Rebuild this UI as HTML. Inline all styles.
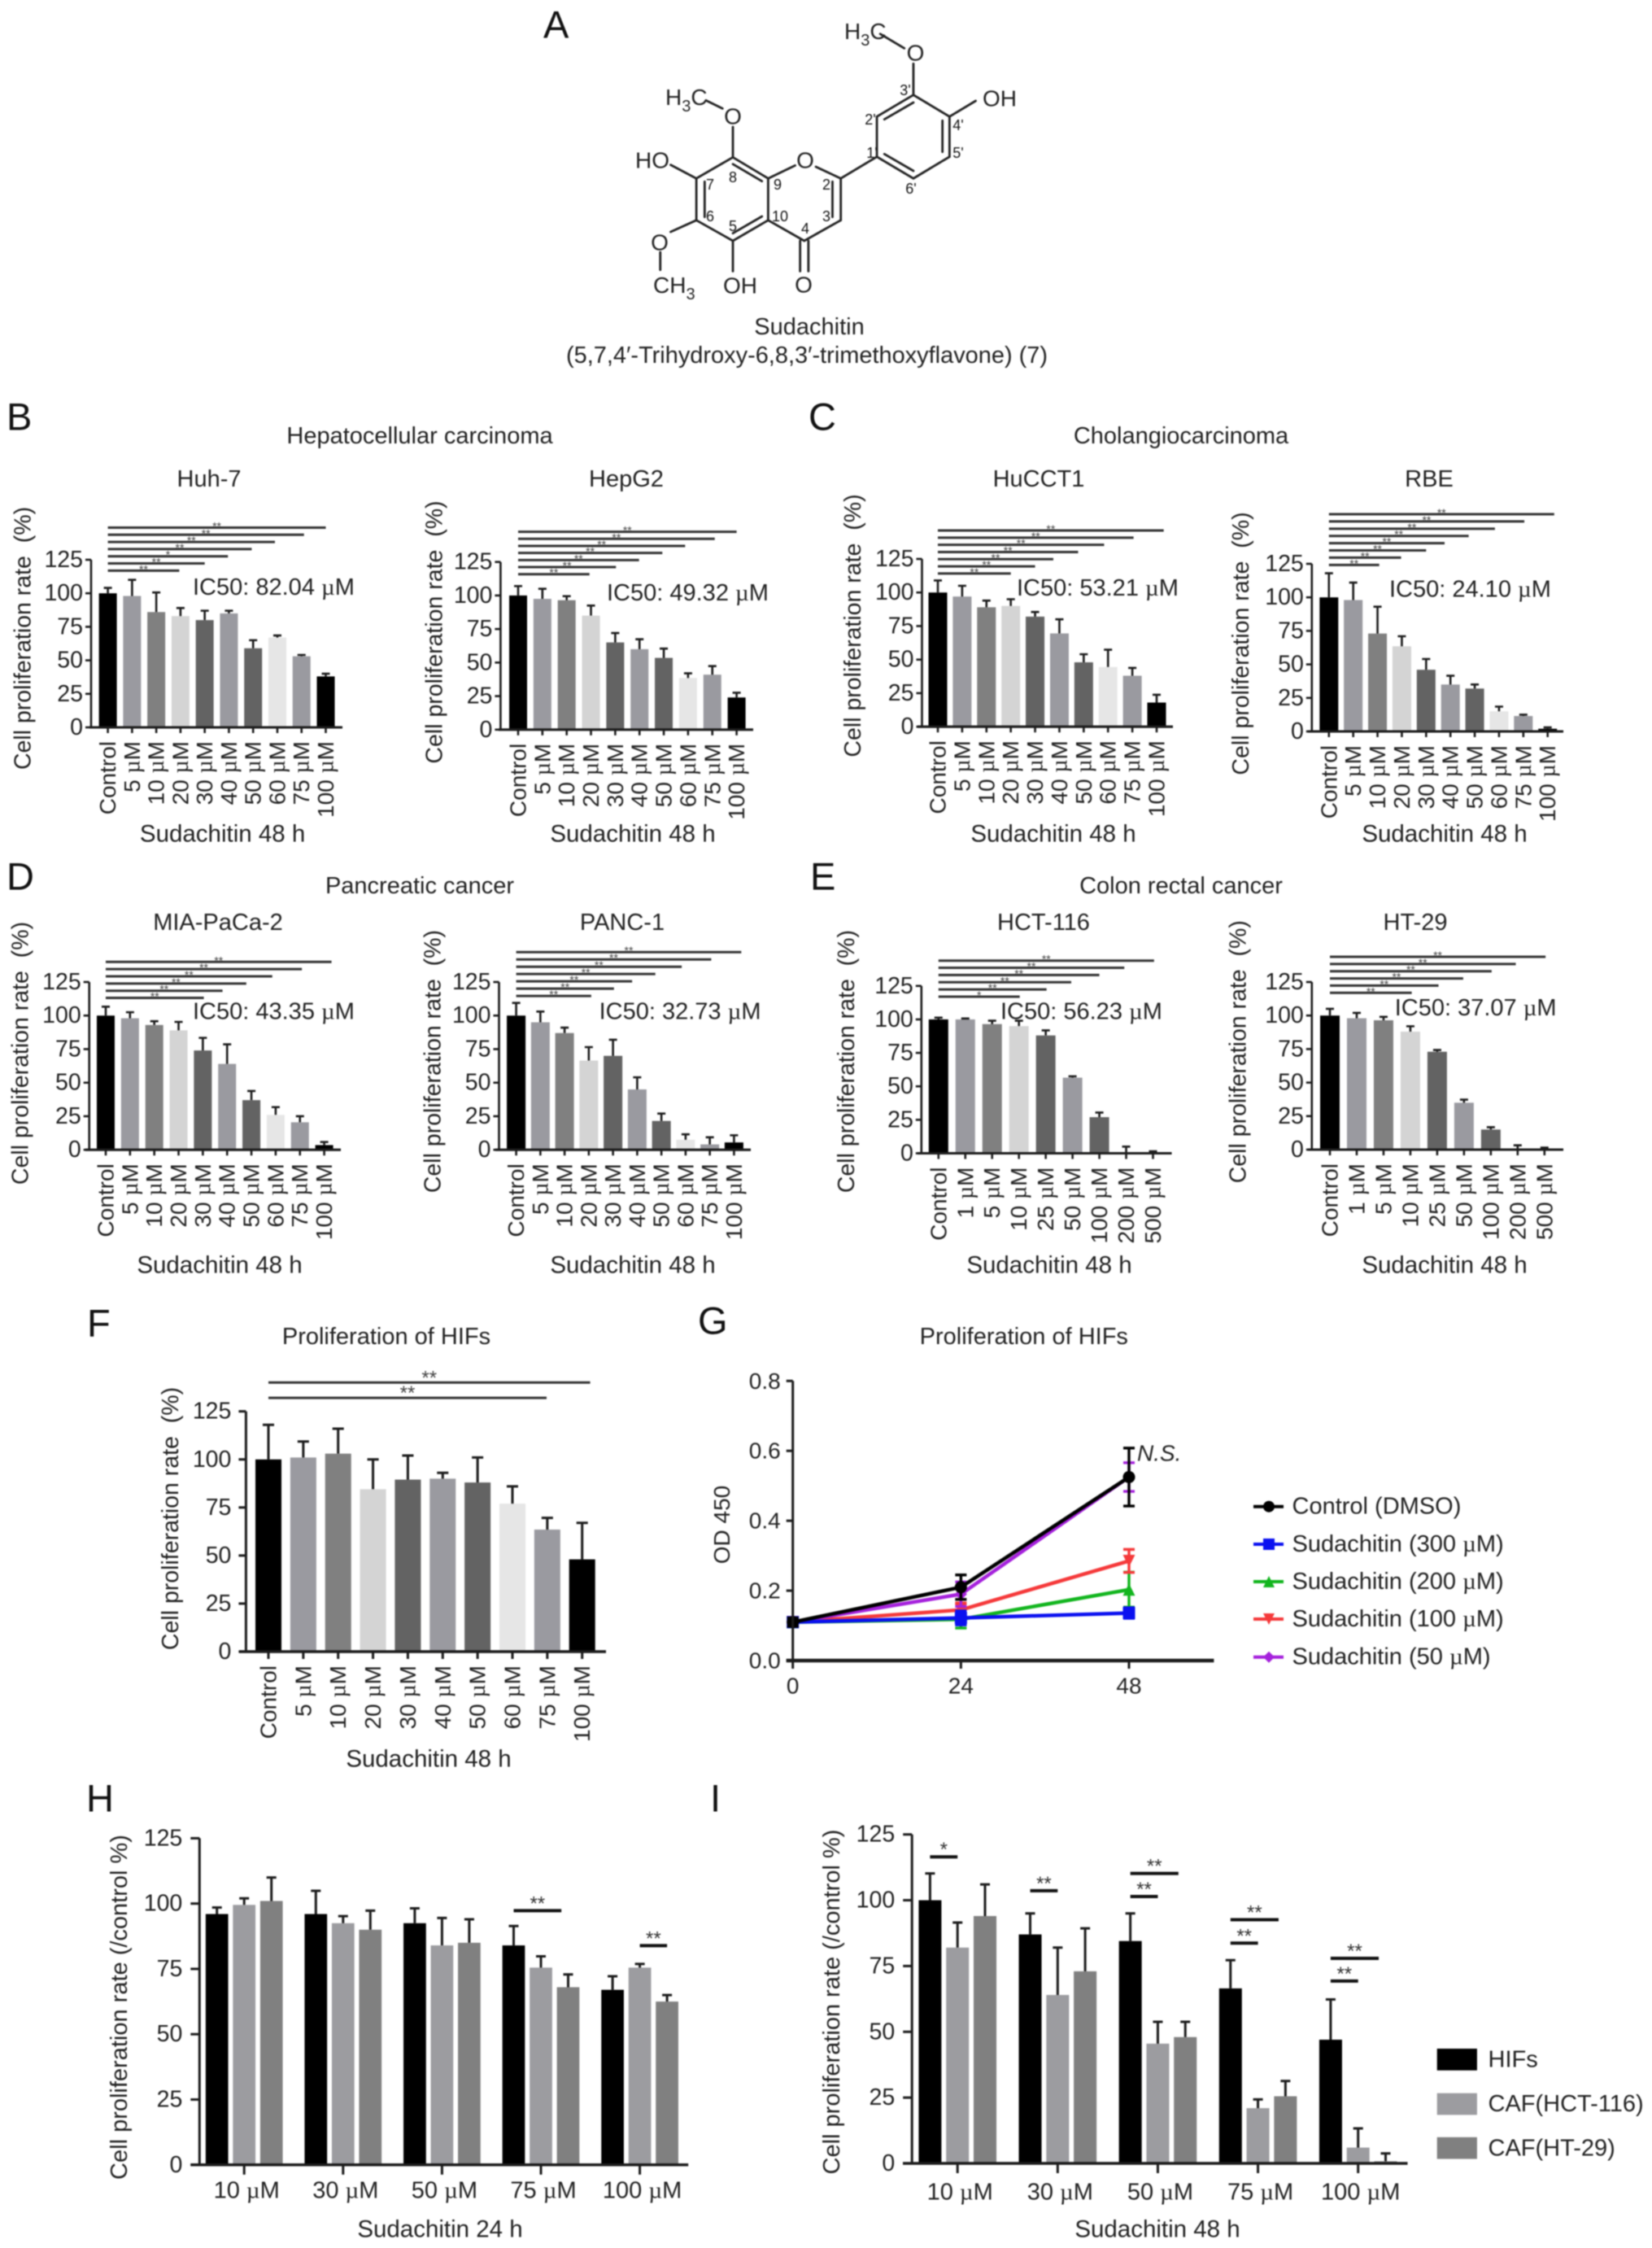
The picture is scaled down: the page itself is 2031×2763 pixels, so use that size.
<!DOCTYPE html>
<html lang="en">
<head>
<meta charset="utf-8">
<title>Sudachitin proliferation figure</title>
<style>
html,body{margin:0;padding:0;background:#fff;}
svg{display:block;filter:blur(0.75px);}
text{font-family:"Liberation Sans",Arial,sans-serif;fill:#222;font-size:29px;}
.c{text-anchor:middle;dominant-baseline:central;}
.l{text-anchor:start;dominant-baseline:central;}
.letter{font-size:47px;fill:#111;dominant-baseline:central;}
.atom{font-size:28px;}
.num{font-size:18px;text-anchor:middle;dominant-baseline:central;fill:#111;}
.mu{font-family:"Liberation Serif",serif;}
</style>
</head>
<body>
<svg id="figure" xmlns="http://www.w3.org/2000/svg" width="2031" height="2763" viewBox="0 0 2031 2763">
<rect x="0" y="0" width="2031" height="2763" fill="#fff"/>

<!-- panel letters -->
<text class="letter" x="668" y="30">A</text>
<text class="letter" x="8" y="512">B</text>
<text class="letter" x="994" y="512">C</text>
<text class="letter" x="8" y="1077">D</text>
<text class="letter" x="996" y="1077">E</text>
<text class="letter" x="107" y="1626">F</text>
<text class="letter" x="858" y="1623">G</text>
<text class="letter" x="106" y="2210">H</text>
<text class="letter" x="873" y="2210">I</text>

<!-- panel A: molecule -->
<g>
<g transform="translate(600,0) scale(0.5102,0.33333)" fill="none" stroke="#222" stroke-width="2.8" stroke-linecap="round">
<path vector-effect="non-scaling-stroke" d="M945 125L1003 178M1025 235L1025 350L1112 430L1112 578L1025 658L937 578L937 430L1025 350M955 440L1025 378M1095 445L1095 560M1025 630L955 568M1112 430L1175 372M937 578L850 658L850 812L762 888L675 812L675 658M850 658L790 615M740 610L675 658M830 670L830 800M752 888L752 1000M772 888L772 1000M675 812L590 888L502 812L502 658L590 580L675 658M590 605L660 668M522 670L522 800M590 860L660 798M590 580L590 468M565 400L525 370M502 658L440 608M502 812L440 855M415 930L415 995M590 888L590 1000"/>
</g>
<text class="atom" x="1038" y="48">H<tspan dy="8" style="font-size:20px">3</tspan><tspan dy="-8">C</tspan></text>
<text class="atom c" x="1125.5" y="65">O</text>
<text class="atom" x="818" y="129">H<tspan dy="8" style="font-size:20px">3</tspan><tspan dy="-8">C</tspan></text>
<text class="atom c" x="901" y="143">O</text>
<text class="atom l" x="1208" y="121">OH</text>
<text class="atom l" x="781" y="197">HO</text>
<text class="atom c" x="990" y="197">O</text>
<text class="atom c" x="811" y="298">O</text>
<text class="atom" x="803" y="360">CH<tspan dy="8" style="font-size:20px">3</tspan></text>
<text class="atom l" x="889" y="351">OH</text>
<text class="atom c" x="988" y="350">O</text>
<text class="num" x="873" y="227">7</text>
<text class="num" x="901" y="218">8</text>
<text class="num" x="956" y="227">9</text>
<text class="num" x="1016" y="227">2</text>
<text class="num" x="873" y="266">6</text>
<text class="num" x="901" y="278">5</text>
<text class="num" x="959" y="266">10</text>
<text class="num" x="1016" y="266">3</text>
<text class="num" x="990" y="281">4</text>
<text class="num" x="1113" y="111">3'</text>
<text class="num" x="1070" y="147">2'</text>
<text class="num" x="1178" y="154">4'</text>
<text class="num" x="1178" y="188">5'</text>
<text class="num" x="1072" y="188">1'</text>
<text class="num" x="1120" y="232">6'</text>
<text class="c" x="995" y="402">Sudachitin</text>
<text class="c" x="992" y="437" textLength="592" lengthAdjust="spacingAndGlyphs">(5,7,4′-Trihydroxy-6,8,3′-trimethoxyflavone) (7)</text>
</g>

<!-- group titles -->
<text class="c" x="516" y="536">Hepatocellular carcinoma</text>
<text class="c" x="1452" y="536">Cholangiocarcinoma</text>
<text class="c" x="516" y="1089">Pancreatic cancer</text>
<text class="c" x="1452" y="1089">Colon rectal cancer</text>

<g id="huh7"></g>
<g id="hepg2"></g>
<g id="hucct1"></g>
<g id="rbe"></g>
<g id="mia"></g>
<g id="panc1"></g>
<g id="hct116"></g>
<g id="ht29"></g>
<g id="hifs48"></g>
<g id="timecourse"></g>
<g id="group24"></g>
<g id="group48"></g>
</svg>

<script>
/* ---------- shared categories and ticks ---------- */
const doseLabels = ["Control","5 µM","10 µM","20 µM","30 µM","40 µM","50 µM","60 µM","75 µM","100 µM"];
const colonDoseLabels = ["Control","1 µM","5 µM","10 µM","25 µM","50 µM","100 µM","200 µM","500 µM"];
const percentTicks = [0,25,50,75,100,125];
const odTicks = [0,0.2,0.4,0.6,0.8];
const timeTicks = [0,24,48];
const groupLabels = ["10 µM","30 µM","50 µM","75 µM","100 µM"];

/* ---------- panel B ---------- */
const huh7Values = [100,98,86,83,80,85,59,67,53,38];
const huh7Errors = [4,12,14.6,6,7,2,6,1.5,1,2];
const huh7SigEnds = [9,8.1,6.9,5.94,4.96,4,2.95];
const huh7SigStars = ["**","**","**","**","*","**","**"];
const hepg2Values = [100,97.5,96.5,85,65,60,53.5,38.5,41,24];
const hepg2Errors = [7,7.5,3,7.5,7,7.4,6.9,3.5,6.4,3.5];
const hepg2SigEnds = [9,8.1,6.88,5.94,4.98,4.03,2.94];
const hepg2SigStars = ["**","**","**","**","**","**","**"];
/* ---------- panel C ---------- */
const hucct1Values = [100,97,89,90,82,69.5,48,44.5,38,18];
const hucct1Errors = [9,8,5,5,3.5,10.5,6,12.9,5.8,5.8];
const hucct1SigEnds = [9.29,8.05,6.84,5.77,4.75,4,3];
const hucct1SigStars = ["**","**","**","**","**","**","**"];
const rbeValues = [100,98,73,63.5,46,35,32,15,11.5,2];
const rbeErrors = [18,13,20,7.5,8,6.5,3,3.5,1,1];
const rbeSigEnds = [9.27,8.04,6.83,5.75,4.76,4,2.97,2.07];
const rbeSigStars = ["**","**","**","**","**","**","**","**"];
/* ---------- panel D ---------- */
const miaValues = [100,98,93,89,74,64,37,26,20.5,3.5];
const miaErrors = [6.6,4.5,2.8,6.3,9.4,14.6,6.8,5.8,4.5,2.3];
const miaSigEnds = [9.3,8.08,6.86,5.79,4.81,4.04];
const miaSigStars = ["**","**","**","**","**","**"];
const panc1Values = [100,95,87,66.5,70,45,21.5,7.5,4,5.5];
const panc1Errors = [9.4,8,4,10,12,9,5.5,4,5.3,5.3];
const panc1SigEnds = [9.3,8.06,6.84,5.75,4.79,4.04,3.1];
const panc1SigStars = ["**","**","**","**","**","**","**"];
/* ---------- panel E ---------- */
const hct116Values = [100,100,96.5,95,88,56.5,27,0.5,0.8];
const hct116Errors = [1.3,0.7,2.5,4,3.8,1,3.4,4.5,0.7];
const hct116SigEnds = [8.04,6.93,6,4.95,4.03,3.03];
const hct116SigStars = ["**","**","**","**","**","*"];
const ht29Values = [100,98,96.5,88,73,35,15,0.5,0.5];
const ht29Errors = [5,4,2.5,4,1.3,2.3,1.7,2.7,1];
const ht29SigEnds = [8.04,6.93,6.03,4.97,4.05,3.05];
const ht29SigStars = ["**","**","**","**","**","**"];
/* ---------- panel F ---------- */
const hifsValues = [100,101,103,84.5,89.5,90,88,77,63.5,48];
const hifsErrors = [18,8.3,13,15.5,12.5,3,13,9,6.1,19];
const hifsSigEnds = [9.23,7.98];
const hifsSigStars = ["**","**"];
/* ---------- panel G ---------- */
const controlOD = [0.11,0.21,0.525];
const controlSD = [0.012,0.035,0.083];
const od300 = [0.11,0.122,0.136];
const sd300 = [0.012,0.02,0.015];
const od200 = [0.11,0.118,0.203];
const sd200 = [0.012,0.025,0.05];
const od100 = [0.11,0.145,0.285];
const sd100 = [0.012,0.02,0.033];
const od50 = [0.11,0.19,0.525];
const sd50 = [0.012,0.035,0.041];
const legendLabelsG = ["Control (DMSO)","Sudachitin (300 µM)","Sudachitin (200 µM)","Sudachitin (100 µM)","Sudachitin (50 µM)"];
/* ---------- panel H ---------- */
const h24Hifs = [96,96,92.5,84,67];
const h24HifsSD = [2.5,8.9,5.7,7.4,5.2];
const h24Hct = [99.5,92.5,84,75.5,75.5];
const h24HctSD = [2.5,2.7,10.5,4.3,1.4];
const h24Ht = [101,90,85,68,62.5];
const h24HtSD = [9,7.3,9,4.9,2.5];
const h24SigGroups = [3,4];
const h24SigFrom = [-1,0];
const h24SigTo = [0.75,1];
const h24SigLevels = [97.3,83.9];
const h24SigStars = ["**","**"];
/* ---------- panel I ---------- */
const i48Hifs = [100,87,84.5,66.5,47];
const i48HifsSD = [10.2,8,10.5,10.7,15.3];
const i48Hct = [82,64,45.5,21,6];
const i48HctSD = [9.5,18,8.3,3.3,7.3];
const i48Ht = [94,73,48,25.5,0.8];
const i48HtSD = [12,16.3,5.8,5.8,3];
const i48SigGroups = [0,1,2,2,3,3,4,4];
const i48SigFrom = [-1,-1,-1,-1,-1,-1,-1,-1];
const i48SigTo = [0,0,0,0.75,0,0.75,0,0.75];
const i48SigLevels = [116.5,103.6,101.4,110.2,83.7,92.6,69.3,77.9];
const i48SigStars = ["*","**","**","**","**","**","**","**"];
const legendLabelsI = ["HIFs","CAF(HCT-116)","CAF(HT-29)"];

/* ---------- style ---------- */
const barShades = ["#000","#9a9aa0","#808080","#d4d4d4","#636363","#9a9aa0","#636363","#e6e6e6","#9a9aa0","#000"];
const colonShades = ["#000","#9a9aa0","#808080","#d4d4d4","#636363","#9a9aa0","#636363","#d4d4d4","#9a9aa0"];
const groupShades = ["#000","#9c9ca0","#808080"];
const INK = "#1c1c1c";
const NS = "http://www.w3.org/2000/svg";

function mk(parent, tag, attrs) {
  const n = document.createElementNS(NS, tag);
  for (const k in attrs) n.setAttribute(k, attrs[k]);
  parent.appendChild(n);
  return n;
}
function fillLabel(node, str) {
  const parts = str.split("µ");
  node.appendChild(document.createTextNode(parts[0]));
  if (parts.length > 1) {
    const t = document.createElementNS(NS, "tspan");
    t.setAttribute("class", "mu");
    t.textContent = "µ";
    node.appendChild(t);
    node.appendChild(document.createTextNode(parts[1]));
  }
}
function label(parent, x, y, str, anchor, size, rotate) {
  const a = {x: x, y: y, "text-anchor": anchor, "dominant-baseline": "central", style: "font-size:" + size + "px"};
  if (rotate) a.transform = "rotate(-90 " + x + " " + y + ")";
  const n = mk(parent, "text", a);
  fillLabel(n, str);
  return n;
}

/* ---------- simple bar panels ---------- */
function drawBarPanel(p) {
  const g = document.getElementById(p.id);
  const n = p.values.length;
  const xAt = i => p.c0 + i * (p.cN - p.c0) / (n - 1);
  const yAt = v => p.y0 - v * (p.y0 - p.y125) / 125;
  const fs = p.font || 28;
  p.values.forEach((v, i) => {
    const bw = p.bw;
    const bar = mk(g, "rect", {x: xAt(i) - bw / 2, y: yAt(v), width: bw, height: Math.max(0, p.y0 - yAt(v)), fill: p.shades[i]});
    
    
    const top = yAt(v + p.errors[i]);
    const err = mk(g, "path", {d: "M" + xAt(i) + " " + yAt(v) + "V" + top + "M" + (xAt(i) - p.cap) + " " + top + "H" + (xAt(i) + p.cap), stroke: INK, "stroke-width": p.lw, fill: "none"});
    
    
    const tick = mk(g, "line", {x1: xAt(i), x2: xAt(i), y1: p.y0, y2: p.y0 + p.tickLen, stroke: INK, "stroke-width": p.lw});
    
    
    const lab = label(g, xAt(i), p.y0 + p.labelGap, p.labels[i], "end", fs, true);
    
    
  });
  const ya = mk(g, "line", {x1: p.ax, x2: p.ax, y1: p.y125, y2: p.y0, stroke: INK, "stroke-width": p.lw});
  
  
  const xa = mk(g, "line", {x1: p.xs, x2: p.xe, y1: p.y0, y2: p.y0, stroke: INK, "stroke-width": p.lw + 0.5});
  
  
  percentTicks.forEach(t => {
    const tk = mk(g, "line", {x1: p.ax - p.tickLen, x2: p.ax, y1: yAt(t), y2: yAt(t), stroke: INK, "stroke-width": p.lw});
    
    
    const tl = label(g, p.ax - p.tickLen - p.yGap, yAt(t), String(t), "end", fs + 0.5, false);
    
    
  });
  p.sigEnds.forEach((e, i) => {
    const lvl = p.sigTop - i * p.sigStep;
    const y = yAt(lvl);
    const line = mk(g, "line", {x1: xAt(0), x2: xAt(e), y1: y, y2: y, stroke: "#333", "stroke-width": p.sigW});
    
    
    const st = mk(g, "text", {x: (xAt(0) + xAt(e)) / 2, y: y + p.starDy, "text-anchor": "middle", style: "font-size:" + p.starSize + "px;fill:#444"});
    st.textContent = p.sigStars[i];
    
    
  });
  const yt = label(g, p.ytX, p.ytY, "Cell proliferation rate  (%)", "middle", 28.5, true);
  yt.setAttribute("xml:space", "preserve");
  yt.style.whiteSpace = "pre";
  
  
  const xt = label(g, p.xtX, p.xtY, "Sudachitin 48 h", "middle", 29.5, false);
  
  
  const ti = label(g, p.titleX, p.titleY, p.title, "middle", 29, false);
  
  
  if (p.ic) {
    const ic = label(g, p.icX, p.icY, p.ic, "start", 29, false);
    
    
  }
}

const small = {bw: 22, cap: 5, lw: 2.6, tickLen: 7, labelGap: 17, yGap: 3, sigW: 3, starDy: 3, starSize: 14, shades: barShades, labels: doseLabels};
const colon = {bw: 24, cap: 5, lw: 2.6, tickLen: 7, labelGap: 17, yGap: 3, sigW: 3, starDy: 3, starSize: 14, shades: colonShades, labels: colonDoseLabels};

drawBarPanel(Object.assign({}, small, {id: "huh7", values: huh7Values, errors: huh7Errors, sigEnds: huh7SigEnds, sigStars: huh7SigStars, ax: 112, xs: 110, xe: 421, y0: 894, y125: 688, c0: 132.6, cN: 400.5, sigTop: 149, sigStep: 5.35, ytX: 28.7, ytY: 784.5, xtX: 273.6, xtY: 1025, title: "Huh-7", titleX: 257, titleY: 589, ic: "IC50: 82.04 µM", icX: 237, icY: 722}));
drawBarPanel(Object.assign({}, small, {id: "hepg2", values: hepg2Values, errors: hepg2Errors, sigEnds: hepg2SigEnds, sigStars: hepg2SigStars, ax: 615.4, xs: 613, xe: 926, y0: 896.8, y125: 690.7, c0: 637, cN: 905.6, sigTop: 147.5, sigStep: 5.27, ytX: 534.4, ytY: 777, xtX: 778, xtY: 1025, title: "HepG2", titleX: 770, titleY: 589, ic: "IC50: 49.32 µM", icX: 746, icY: 729}));
drawBarPanel(Object.assign({}, small, {id: "hucct1", bw: 23, values: hucct1Values, errors: hucct1Errors, sigEnds: hucct1SigEnds, sigStars: hucct1SigStars, ax: 1133.5, xs: 1128, xe: 1442, y0: 893.2, y125: 687, c0: 1153, cN: 1422, sigTop: 146.2, sigStep: 5.34, ytX: 1049, ytY: 769, xtX: 1295, xtY: 1025, title: "HuCCT1", titleX: 1277, titleY: 589, ic: "IC50: 53.21 µM", icX: 1250, icY: 723}));
drawBarPanel(Object.assign({}, small, {id: "rbe", bw: 23, values: rbeValues, errors: rbeErrors, sigEnds: rbeSigEnds, sigStars: rbeSigStars, ax: 1612.8, xs: 1608, xe: 1922, y0: 899, y125: 693, c0: 1633.8, cN: 1902.7, sigTop: 162, sigStep: 5.4, ytX: 1526, ytY: 791, xtX: 1776, xtY: 1025, title: "RBE", titleX: 1757, titleY: 589, ic: "IC50: 24.10 µM", icX: 1708, icY: 724.6}));
drawBarPanel(Object.assign({}, small, {id: "mia", values: miaValues, errors: miaErrors, sigEnds: miaSigEnds, sigStars: miaSigStars, ax: 109.7, xs: 105, xe: 419, y0: 1413.2, y125: 1207, c0: 130, cN: 398.6, sigTop: 140, sigStep: 5.37, ytX: 25.5, ytY: 1294.5, xtX: 270, xtY: 1555, title: "MIA-PaCa-2", titleX: 268, titleY: 1134, ic: "IC50: 43.35 µM", icX: 237, icY: 1243.6}));
drawBarPanel(Object.assign({}, small, {id: "panc1", bw: 23, values: panc1Values, errors: panc1Errors, sigEnds: panc1SigEnds, sigStars: panc1SigStars, ax: 613.5, xs: 609, xe: 923, y0: 1413.2, y125: 1207, c0: 634.6, cN: 902.4, sigTop: 147.3, sigStep: 5.45, ytX: 532.5, ytY: 1304.6, xtX: 778, xtY: 1555, title: "PANC-1", titleX: 765, titleY: 1134, ic: "IC50: 32.73 µM", icX: 736.6, icY: 1243.6}));
drawBarPanel(Object.assign({}, colon, {id: "hct116", values: hct116Values, errors: hct116Errors, sigEnds: hct116SigEnds, sigStars: hct116SigStars, ax: 1132.8, xs: 1128, xe: 1440.5, y0: 1417.5, y125: 1211.8, c0: 1153.8, cN: 1417.5, sigTop: 143.9, sigStep: 5.38, ytX: 1040.8, ytY: 1304.6, xtX: 1290, xtY: 1555, title: "HCT-116", titleX: 1283, titleY: 1134, ic: "IC50: 56.23 µM", icX: 1230, icY: 1243.6}));
drawBarPanel(Object.assign({}, colon, {id: "ht29", values: ht29Values, errors: ht29Errors, sigEnds: ht29SigEnds, sigStars: ht29SigStars, ax: 1612.8, xs: 1608, xe: 1922, y0: 1413, y125: 1207, c0: 1635, cN: 1898.8, sigTop: 143.8, sigStep: 5.37, ytX: 1522.7, ytY: 1292.7, xtX: 1776, xtY: 1555, title: "HT-29", titleX: 1740, titleY: 1134, ic: "IC50: 37.07 µM", icX: 1714.7, icY: 1239}));
drawBarPanel(Object.assign({}, small, {id: "hifs48", bw: 32, cap: 7, lw: 3, tickLen: 9, labelGap: 17, yGap: 9, sigW: 3, starDy: 2, starSize: 24, values: hifsValues, errors: hifsErrors, sigEnds: hifsSigEnds, sigStars: hifsSigStars, ax: 302.4, xs: 294, xe: 745, y0: 2030, y125: 1734.7, c0: 330, cN: 715.7, sigTop: 140, sigStep: 8, ytX: 210, ytY: 1866.5, xtX: 527, xtY: 2162, title: "Proliferation of HIFs", titleX: 475, titleY: 1643}));

/* ---------- grouped bar panels ---------- */
function drawGrouped(p) {
  const g = document.getElementById(p.id);
  const xGroup = i => p.g0 + i * (p.gN - p.g0) / (groupLabels.length - 1);
  const yAt = v => p.y0 - v * (p.y0 - p.y125) / 125;
  p.series.forEach((vals, s) => {
    vals.forEach((v, i) => {
      const cx = xGroup(i) + (s - 1) * p.offset;
      const bar = mk(g, "rect", {x: cx - p.bw / 2, y: yAt(v), width: p.bw, height: Math.max(0, p.y0 - yAt(v)), fill: groupShades[s]});
      
      
      const top = yAt(v + p.sds[s][i]);
      const err = mk(g, "path", {d: "M" + cx + " " + yAt(v) + "V" + top + "M" + (cx - 6) + " " + top + "H" + (cx + 6), stroke: INK, "stroke-width": 3, fill: "none"});
      
      
    });
  });
  groupLabels.forEach((t, i) => {
    const tk = mk(g, "line", {x1: xGroup(i), x2: xGroup(i), y1: p.y0, y2: p.y0 + 12, stroke: INK, "stroke-width": 3});
    
    
    const lb = label(g, xGroup(i) + 3, p.tickLabelY, t, "middle", 29, false);
    
    
  });
  const ya = mk(g, "line", {x1: p.ax, x2: p.ax, y1: p.y125, y2: p.y0, stroke: INK, "stroke-width": 3});
  
  
  const xa = mk(g, "line", {x1: p.xs, x2: p.xe, y1: p.y0, y2: p.y0, stroke: INK, "stroke-width": 3.5});
  
  
  percentTicks.forEach(t => {
    const tk = mk(g, "line", {x1: p.ax - 11, x2: p.ax, y1: yAt(t), y2: yAt(t), stroke: INK, "stroke-width": 3});
    
    
    const tl = label(g, p.ax - 21, yAt(t), String(t), "end", 28.5, false);
    
    
  });
  p.sigGroups.forEach((gi, i) => {
    const x1 = xGroup(gi) + p.sigFrom[i] * p.offset;
    const x2 = xGroup(gi) + p.sigTo[i] * p.offset;
    const y = yAt(p.sigLevels[i]);
    const line = mk(g, "line", {x1: x1, x2: x2, y1: y, y2: y, stroke: "#111", "stroke-width": 4});
    
    
    const st = mk(g, "text", {x: (x1 + x2) / 2, y: y - 1, "text-anchor": "middle", style: "font-size:24px;fill:#333"});
    st.textContent = p.sigStars[i];
    
    
  });
  const yt = label(g, p.ytX, p.ytY, "Cell proliferation rate (/control %)", "middle", 29, true);
  
  
  const xt = label(g, p.xtX, p.xtY, p.xTitle, "middle", 29.5, false);
  
  
}
drawGrouped({id: "group24", series: [h24Hifs, h24Hct, h24Ht], sds: [h24HifsSD, h24HctSD, h24HtSD], g0: 300.2, gN: 786.6, offset: 33.5, bw: 27.7, ax: 245.3, xs: 234.3, xe: 846.2, y0: 2660.8, y125: 2259.4, tickLabelY: 2692.6, sigGroups: h24SigGroups, sigFrom: h24SigFrom, sigTo: h24SigTo, sigLevels: h24SigLevels, sigStars: h24SigStars, ytX: 147, ytY: 2467, xtX: 541, xtY: 2740, xTitle: "Sudachitin 24 h"});
drawGrouped({id: "group48", series: [i48Hifs, i48Hct, i48Ht], sds: [i48HifsSD, i48HctSD, i48HtSD], g0: 1177.2, gN: 1669.7, offset: 33.8, bw: 28, ax: 1121.2, xs: 1110, xe: 1730.5, y0: 2659, y125: 2254.7, tickLabelY: 2694.4, sigGroups: i48SigGroups, sigFrom: i48SigFrom, sigTo: i48SigTo, sigLevels: i48SigLevels, sigStars: i48SigStars, ytX: 1022.8, ytY: 2460.5, xtX: 1423, xtY: 2740, xTitle: "Sudachitin 48 h"});

/* legend of panel I */
(function () {
  const g = document.getElementById("group48");
  const swatchTop = [2518, 2572.7, 2626.8];
  legendLabelsI.forEach((t, i) => {
    const sw = mk(g, "rect", {x: 1766.7, y: swatchTop[i], width: 49.2, height: 26.7, fill: groupShades[i]});
    
    
    const lb = label(g, 1829.5, swatchTop[i] + 13.5, t, "start", 29, false);
    
    
  });
})();

/* ---------- line panel G ---------- */
(function () {
  const g = document.getElementById("timecourse");
  const ax = 974.7, y0 = 2041, yTop = 1697.3, x48 = 1388, xEnd = 1492.4;
  const xAt = t => ax + t * (x48 - ax) / 48;
  const yAt = v => y0 - v * (y0 - yTop) / 0.8;
  function marker(parent, kind, x, y, color, size) {
    let m;
    if (kind === "circle") m = mk(parent, "circle", {cx: x, cy: y, r: size, fill: color});
    if (kind === "square") m = mk(parent, "rect", {x: x - size, y: y - size, width: 2 * size, height: 2 * size, fill: color});
    if (kind === "up") m = mk(parent, "polygon", {points: (x - size) + "," + (y + size) + " " + (x + size) + "," + (y + size) + " " + x + "," + (y - size), fill: color});
    if (kind === "down") m = mk(parent, "polygon", {points: (x - size) + "," + (y - size) + " " + (x + size) + "," + (y - size) + " " + x + "," + (y + size), fill: color});
    if (kind === "diamond") m = mk(parent, "polygon", {points: (x - size) + "," + y + " " + x + "," + (y - size) + " " + (x + size) + "," + y + " " + x + "," + (y + size), fill: color});
    return m;
  }
  const draws = [
    {vals: od200, sds: sd200, color: "#12b51e", kind: "up"},
    {vals: od100, sds: sd100, color: "#f5393a", kind: "down"},
    {vals: od50, sds: sd50, color: "#a521dc", kind: "diamond"},
    {vals: od300, sds: sd300, color: "#0a10f0", kind: "square"},
    {vals: controlOD, sds: controlSD, color: "#000", kind: "circle"}
  ];
  draws.forEach(s => {
    const pts = s.vals.map((v, i) => xAt(timeTicks[i]) + "," + yAt(v)).join(" ");
    const line = mk(g, "polyline", {points: pts, fill: "none", stroke: s.color, "stroke-width": 4.5});
    
    
    s.vals.forEach((v, i) => {
      const x = xAt(timeTicks[i]);
      const hi = yAt(v + s.sds[i]);
      const lo = yAt(v - s.sds[i]);
      const err = mk(g, "path", {d: "M" + x + " " + hi + "V" + lo + "M" + (x - 7) + " " + hi + "H" + (x + 7) + "M" + (x - 7) + " " + lo + "H" + (x + 7), fill: "none", stroke: s.color, "stroke-width": 3.4});
      
      
      const m = marker(g, s.kind, x, yAt(v), s.color, 7.5);
      
      
    });
  });
  const ya = mk(g, "line", {x1: ax, x2: ax, y1: yTop, y2: y0, stroke: INK, "stroke-width": 3});
  
  
  const xa = mk(g, "line", {x1: ax - 8, x2: xEnd, y1: y0, y2: y0, stroke: INK, "stroke-width": 4.5});
  
  
  odTicks.forEach(t => {
    const tk = mk(g, "line", {x1: ax - 8, x2: ax, y1: yAt(t), y2: yAt(t), stroke: INK, "stroke-width": 3});
    
    
    const tl = label(g, ax - 15, yAt(t), t.toFixed(1), "end", 28, false);
    
    
  });
  timeTicks.forEach(t => {
    const tk = mk(g, "line", {x1: xAt(t), x2: xAt(t), y1: y0, y2: y0 + 10, stroke: INK, "stroke-width": 3});
    
    
    const tl = label(g, xAt(t), 2072, String(t), "middle", 28, false);
    
    
  });
  const yt = label(g, 887.7, 1874, "OD 450", "middle", 28, true);
  
  
  const ti = label(g, 1258.8, 1643, "Proliferation of HIFs", "middle", 29, false);
  
  
  const ns = label(g, 1398, 1786, "N.S.", "start", 28, false);
  ns.style.fontStyle = "italic";
  
  
  const legendColors = ["#000", "#0a10f0", "#12b51e", "#f5393a", "#a521dc"];
  const legendKinds = ["circle", "square", "up", "down", "diamond"];
  const legendY = [1851.7, 1898, 1944, 1990, 2036.7];
  legendLabelsG.forEach((t, i) => {
    const ln = mk(g, "line", {x1: 1541, x2: 1578, y1: legendY[i], y2: legendY[i], stroke: legendColors[i], "stroke-width": 4});
    
    
    const m = marker(g, legendKinds[i], 1560, legendY[i], legendColors[i], 7);
    
    
    const lb = label(g, 1588.5, legendY[i], t, "start", 29, false);
    
    
  });
})();
</script>
</body>
</html>
